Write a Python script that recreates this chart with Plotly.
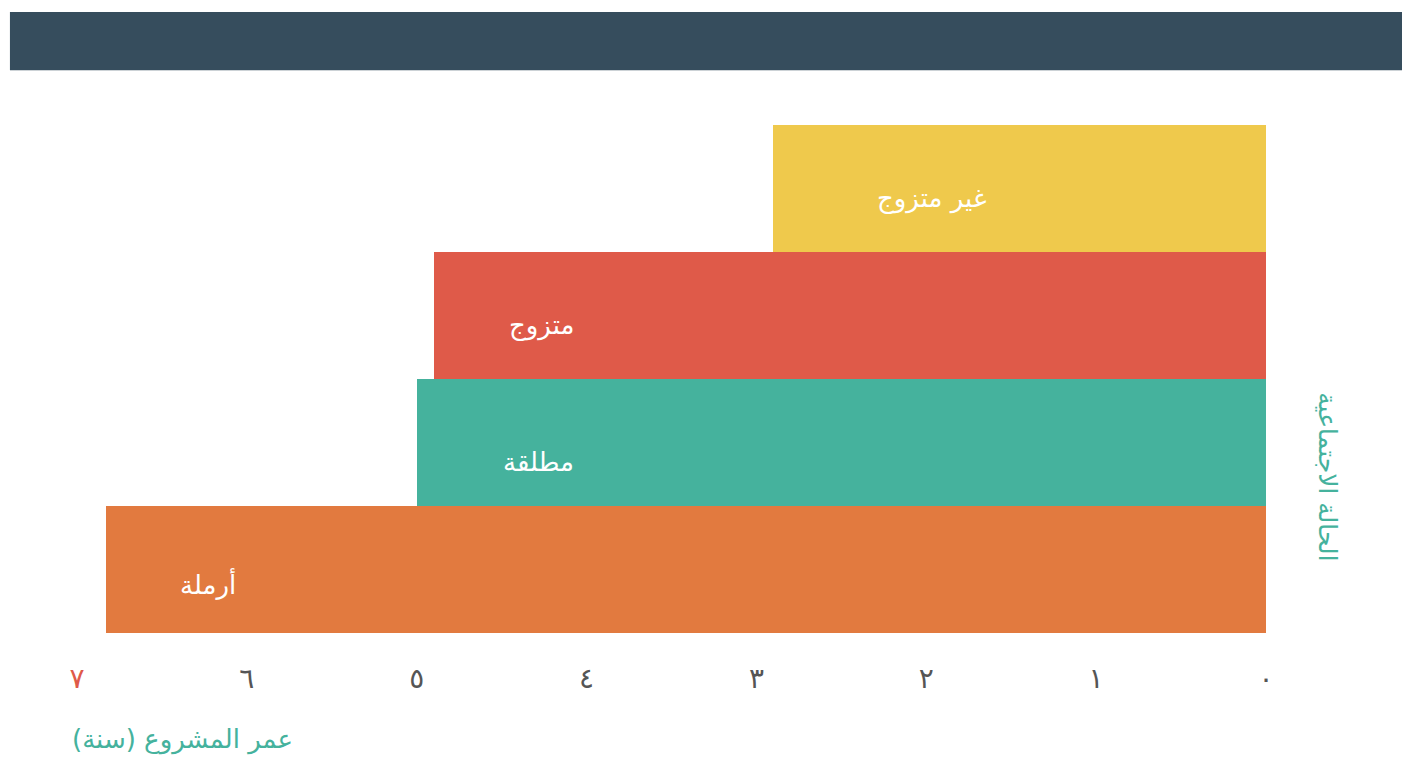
import plotly.graph_objects as go

# الحالة الاجتماعية مقابل عمر المشروع
categories = ["أرملة", "مطلقة", "متزوج", "غير متزوج"]
years = [6.83, 5.0, 4.9, 2.9]
colors = ["#E27A3F", "#45B29D", "#DF5A49", "#EFC94C"]
label_x = [6.05, 4.06, 4.06, 1.63]

tick_vals = [0, 1, 2, 3, 4, 5, 6, 7]
tick_text = ["٠", "١", "٢", "٣", "٤", "٥", "٦",
             "<span style='color:#DF5A49'>٧</span>"]

FONT = "DejaVu Sans"
label_shift = {"أرملة": -14, "مطلقة": -19, "متزوج": -10, "غير متزوج": -10}

fig = go.Figure(go.Bar(
    x=years,
    y=categories,
    orientation="h",
    marker=dict(color=colors, line=dict(width=0)),
    hoverinfo="skip",
))

for cat, lx in zip(categories, label_x):
    fig.add_annotation(x=lx, y=cat, text=cat, showarrow=False,
                       xanchor="right", yshift=label_shift[cat],
                       font=dict(family=FONT, size=26, color="white"))

# العنوانان
fig.add_annotation(xref="paper", yref="paper", x=-0.006, y=-0.21,
                   text="عمر المشروع (سنة)", showarrow=False,
                   xanchor="left", yanchor="middle",
                   font=dict(family=FONT, size=26, color="#45B29D"))
fig.add_annotation(xref="paper", yref="paper", x=1.052, y=0.307,
                   text="الحالة الاجتماعية", showarrow=False, textangle=90,
                   xanchor="center", yanchor="middle",
                   font=dict(family=FONT, size=25, color="#45B29D"))

# الشريط العلوي
fig.add_shape(type="rect", xref="paper", yref="paper",
              x0=-0.0564, x1=1.3, y0=1.108, y1=1.2224,
              fillcolor="#364D5D", line=dict(width=0), layer="above")

fig.update_layout(
    width=1410, height=760,
    margin=dict(l=69, r=152, t=117, b=135),
    plot_bgcolor="white", paper_bgcolor="white",
    bargap=0, showlegend=False,
    xaxis=dict(range=[7, 0], tickvals=tick_vals, ticktext=tick_text,
               showgrid=False, zeroline=False, showline=False,
               ticks="outside", ticklen=20, tickcolor="rgba(0,0,0,0)",
               tickfont=dict(family=FONT, size=28, color="#555555")),
    yaxis=dict(range=[-0.5, 3.5], showticklabels=False, showgrid=False,
               zeroline=False, showline=False),
)

fig.write_html("out.html")
